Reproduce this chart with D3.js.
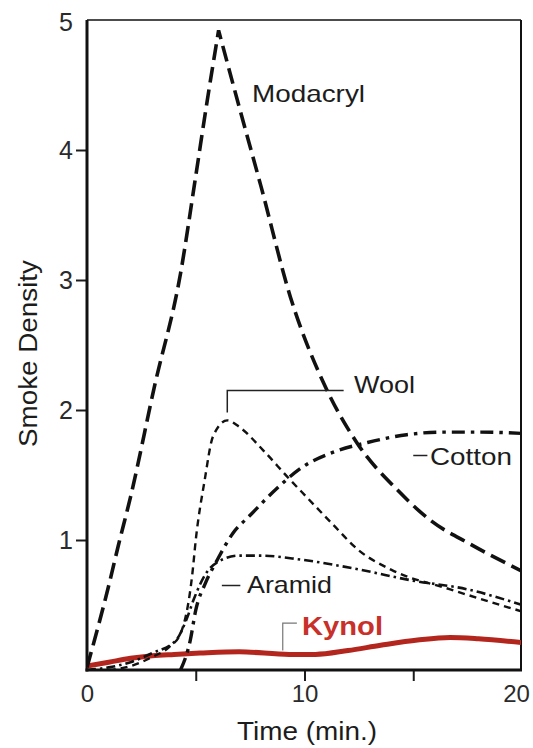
<!DOCTYPE html>
<html><head><meta charset="utf-8">
<script src="https://cdn.jsdelivr.net/npm/d3@7"></script>
<style>
body{margin:0;background:#fff}
svg{display:block}
text{font-family:"Liberation Sans",Arial,Helvetica,sans-serif}
</style>
</head><body>
<svg id="c" width="533" height="748"></svg>
<script>
// ---- data (time in minutes, smoke density) ----
const xTicks = [0, 5, 10, 15, 20];
const xTickLabels = ["0", "", "10", "", "20"];
const yTicks = [1, 2, 3, 4, 5];
const yTickLabels = ["1", "2", "3", "4", "5"];

const modacrylRise = [[0,0.02],[1,0.65],[1.43,0.95],[2,1.33],[3.1,2.18],[4.3,3.05],[5,3.8],[5.5,4.35],[6.05,4.92]];
const modacrylFall = [[6.05,4.92],[7,4.33],[8,3.72],[9.35,2.87],[10.9,2.2],[12.4,1.75],[14.3,1.38],[15.8,1.15],[17.6,0.97],[20,0.76]];
const wool = [[1,0],[2,0.03],[3,0.1],[3.8,0.18],[4.3,0.28],[4.85,0.75],[5.0,1.0],[5.4,1.45],[5.8,1.8],[6.45,1.92],[7,1.87],[8.1,1.69],[9.3,1.47],[10.1,1.33],[11.3,1.12],[12.5,0.92],[14,0.77],[16.7,0.62],[20,0.45]];
const cotton = [[4.3,0],[4.75,0.23],[5.0,0.46],[5.45,0.67],[6.0,0.85],[6.7,1.05],[7.5,1.19],[8.75,1.4],[9.9,1.56],[11.4,1.68],[12.9,1.75],[14.7,1.81],[16.4,1.83],[18.1,1.83],[20,1.82]];
const aramid = [[0,0],[1,0.02],[2,0.06],[3,0.13],[4.1,0.23],[4.6,0.4],[4.9,0.54],[5.5,0.75],[6,0.83],[7,0.88],[8,0.88],[9.8,0.85],[12.6,0.77],[14.9,0.69],[17.5,0.62],[20,0.5]];
const kynol = [[0,0.03],[1,0.06],[2,0.09],[3,0.11],[4,0.12],[5.2,0.13],[7,0.14],[9.3,0.12],[10.5,0.12],[12,0.15],[13.5,0.19],[15.2,0.23],[16.7,0.25],[18,0.24],[20,0.21]];

const seriesNames = ["Modacryl", "Wool", "Cotton", "Aramid", "Kynol"];

// ---- scales ----
const svg = d3.select("#c");
const x = d3.scaleLinear().domain([0, 20]).range([87, 522]);
const y = d3.scaleLinear().domain([0, 5]).range([670, 20]);
const right = x(20) - 1;
const ink = "#1c1c1c";

svg.append("defs").append("clipPath").attr("id", "clip")
  .append("rect").attr("x", x(0)).attr("y", y(5) - 2).attr("width", right - x(0)).attr("height", y(0) - y(5) + 2);

// ---- axes ----
const xAxis = d3.axisBottom(x).tickValues(xTicks).tickSize(11).tickPadding(4)
  .tickFormat((d, i) => xTickLabels[i]);
const gx = svg.append("g").attr("transform", `translate(0,${y(0)})`).call(xAxis);
gx.select(".domain").remove();
gx.selectAll(".tick line").attr("stroke", ink).attr("stroke-width", 2)
  .attr("display", d => (d === 0 || d === 20) ? "none" : null);
gx.selectAll(".tick text").attr("font-size", 24).style("fill", "#2a2a2a")
  .attr("dx", d => d === 20 ? -6 : 0);

const yAxis = d3.axisLeft(y).tickValues(yTicks).tickSize(11).tickPadding(3)
  .tickFormat((d, i) => yTickLabels[i]);
const gy = svg.append("g").attr("transform", `translate(${x(0)},0)`).call(yAxis);
gy.select(".domain").remove();
gy.selectAll(".tick line").attr("stroke", ink).attr("stroke-width", 2)
  .attr("display", d => d === 5 ? "none" : null);
gy.selectAll(".tick text").attr("font-size", 25).style("fill", "#2a2a2a")
  .attr("dy", d => d === 5 ? "0.42em" : "0.32em");

// ---- frame ----
const frame = svg.append("g").attr("stroke", "#111").attr("fill", "none");
frame.append("line").attr("x1", x(0)).attr("x2", right).attr("y1", y(5)).attr("y2", y(5)).attr("stroke-width", 1.5);
frame.append("line").attr("x1", right).attr("x2", right).attr("y1", y(5)).attr("y2", y(0) + 1).attr("stroke-width", 2);
frame.append("line").attr("x1", x(0)).attr("x2", x(0)).attr("y1", y(5)).attr("y2", y(0) + 1.5).attr("stroke-width", 3);
frame.append("line").attr("x1", x(0) - 1.5).attr("x2", right + 1).attr("y1", y(0)).attr("y2", y(0)).attr("stroke-width", 3);

// ---- curves ----
const smooth = d3.line().x(d => x(d[0])).y(d => y(d[1])).curve(d3.curveMonotoneX);
const curves = svg.append("g").attr("clip-path", "url(#clip)").attr("fill", "none").attr("stroke-linecap", "butt");

curves.append("path").attr("d", smooth(kynol)).attr("stroke", "#b3261e").attr("stroke-width", 5);
curves.append("path").attr("d", smooth(aramid)).attr("stroke", "#111").attr("stroke-width", 2.6).attr("stroke-dasharray", "9,4,2.5,4");
curves.append("path").attr("d", smooth(wool)).attr("stroke", "#111").attr("stroke-width", 2.4).attr("stroke-dasharray", "7,5");
curves.append("path").attr("d", smooth(cotton)).attr("stroke", "#111").attr("stroke-width", 3.4).attr("stroke-dasharray", "13,6,3.5,6");
// Modacryl: sharp peak -> two smooth pieces joined in one path
curves.append("path").attr("d", smooth(modacrylRise) + smooth(modacrylFall).replace(/^M/, "L"))
  .attr("stroke", "#111").attr("stroke-width", 3.6).attr("stroke-dasharray", "16,7");

// ---- labels & leaders ----
const lead = svg.append("g").attr("stroke", "#222").attr("fill", "none").attr("stroke-width", 1.5);
// Wool bracket
lead.append("path").attr("d", `M${x(6.45)},${y(1.98)}V${y(2.15)}H${x(11.8)}`);
// Cotton dash
lead.append("path").attr("d", `M${x(15.0)},${y(1.65)}H${x(15.65)}`);
// Aramid dash
lead.append("path").attr("d", `M${x(6.2)},${y(0.65)}H${x(7.05)}`);
// Kynol bracket
lead.append("path").attr("d", `M${x(9.0)},${y(0.15)}V${y(0.36)}H${x(9.65)}`).attr("stroke", "#777").attr("stroke-width", 1.2);

function label(txt, xp, yp, size, len, opts = {}) {
  const t = svg.append("text").attr("x", xp).attr("y", yp).attr("font-size", size)
    .attr("textLength", len).attr("lengthAdjust", "spacingAndGlyphs")
    .style("fill", opts.fill || ink).text(txt);
  if (opts.weight) t.attr("font-weight", opts.weight);
  return t;
}
label(seriesNames[0], 252, 102, 24, 113);
label(seriesNames[1], 354, 393, 24, 61);
label(seriesNames[2], 430, 465, 24, 82);
label(seriesNames[3], 247, 593, 24, 85);
label(seriesNames[4], 302, 635, 26, 81, {fill: "#c8302a", weight: "bold"});

// axis titles
label("Time (min.)", 237, 740, 26, 140);
svg.append("text").attr("transform", "translate(37,447) rotate(-90)").attr("font-size", 25)
  .style("fill", ink)
  .attr("textLength", 187).attr("lengthAdjust", "spacingAndGlyphs").text("Smoke Density");
</script>
</body></html>
